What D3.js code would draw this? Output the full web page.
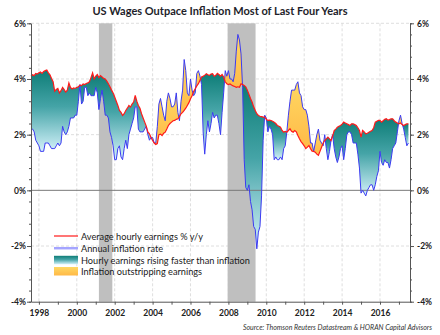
<!DOCTYPE html>
<html lang="en">
<head>
<meta charset="UTF-8">
<title>US Wages Outpace Inflation</title>
<script src="https://cdn.jsdelivr.net/npm/d3@7/dist/d3.min.js"></script>
<style>
  body { margin: 0; background: #fff; }
  text { font-family: Lato, "Open Sans", sans-serif; }
</style>
</head>
<body>
<svg id="chart" width="440" height="335"></svg>
<script>
// monthly series, Aug 1997 - Jul 2017 (% y/y)
const startYear = 1997 + 7 / 12;

const wages = [
  4.10, 4.15, 4.12, 4.20, 4.18,
  4.22, 4.25, 4.20, 4.27, 4.30, 4.32, 4.22, 4.15, 4.02, 3.90, 3.56, 3.62,
  3.66, 3.50, 3.58, 3.70, 3.62, 3.53, 3.60, 3.86, 3.70, 3.64, 3.68, 3.66,
  3.70, 3.72, 3.78, 3.76, 3.82, 3.80, 3.84, 3.86, 3.90, 4.05, 4.22, 4.00,
  4.10, 4.16, 4.05, 4.12, 4.07, 4.02, 4.00, 3.92, 3.83, 3.72, 3.60, 3.50,
  3.35, 3.20, 3.05, 2.87, 2.80, 2.69, 2.75, 2.87, 2.95, 3.05, 2.99, 3.10,
  3.17, 3.41, 3.20, 3.05, 2.95, 2.75, 2.60, 2.45, 2.30, 2.10, 2.03, 1.90,
  1.79, 1.70, 1.65, 1.68, 2.00, 2.02, 1.97, 2.05, 2.09, 2.20, 2.33, 2.40,
  2.45, 2.50, 2.51, 2.55, 2.57, 2.65, 2.75, 2.80, 2.87, 2.95, 3.05, 3.15,
  3.29, 3.40, 3.55, 3.65, 3.75, 3.83, 3.95, 4.07, 4.10, 4.13, 4.19, 4.15,
  4.13, 4.18, 4.19, 4.10, 4.13, 4.20, 4.16, 4.10, 4.16, 4.07, 3.90, 3.83,
  3.80, 3.82, 3.78, 3.75, 3.73, 3.70, 3.72, 3.70, 3.83, 3.80, 3.77, 3.72,
  3.60, 3.45, 3.30, 3.17, 3.00, 2.87, 2.75, 2.69, 2.66, 2.65, 2.63, 2.63,
  2.55, 2.51, 2.52, 2.51, 2.48, 2.45, 2.40, 2.33, 2.30, 2.27, 2.15, 2.09,
  2.12, 2.09, 2.15, 2.21, 2.12, 2.09, 2.15, 2.10, 1.97, 1.85, 1.75, 1.68,
  1.60, 1.50, 1.55, 1.61, 1.50, 1.41, 1.40, 1.37, 1.30, 1.26, 1.40, 1.55,
  1.70, 1.79, 1.85, 1.91, 1.85, 1.79, 1.95, 2.15, 2.20, 2.27, 2.30, 2.33,
  2.38, 2.45, 2.42, 2.39, 2.36, 2.33, 2.39, 2.39, 2.36, 2.33, 2.25, 2.15,
  1.91, 2.15, 2.10, 2.03, 2.05, 2.09, 2.12, 2.15, 2.25, 2.45, 2.48, 2.51,
  2.51, 2.45, 2.50, 2.55, 2.57, 2.52, 2.54, 2.57, 2.57, 2.50, 2.45, 2.42,
  2.39, 2.42, 2.36, 2.33, 2.36, 2.39, 2.39
];

const inflation = [
  2.2, 2.2, 2.1, 1.8, 1.7,
  1.6, 1.4, 1.4, 1.4, 1.7, 1.7, 1.7, 1.6, 1.5, 1.5, 1.5, 1.6,
  1.7, 1.6, 1.7, 2.3, 2.1, 2.0, 2.1, 2.3, 2.6, 2.6, 2.6, 2.7,
  2.7, 3.2, 3.8, 3.1, 3.2, 3.7, 3.7, 3.4, 3.5, 3.4, 3.4, 3.4,
  3.7, 3.5, 2.9, 3.3, 3.6, 3.2, 2.7, 2.7, 2.6, 2.1, 1.9, 1.6,
  1.1, 1.1, 1.5, 1.6, 1.2, 1.1, 1.5, 1.8, 1.5, 2.0, 2.2, 2.4,
  2.6, 3.0, 3.0, 2.2, 2.1, 2.1, 2.1, 2.2, 2.3, 2.0, 1.8, 1.9,
  1.9, 1.7, 1.7, 2.3, 3.1, 3.3, 3.0, 2.7, 2.5, 3.2, 3.5, 3.3,
  3.0, 3.0, 3.1, 3.5, 2.8, 2.5, 3.2, 3.6, 4.7, 4.3, 3.5, 3.4,
  4.0, 3.6, 3.4, 3.5, 4.2, 4.3, 4.1, 3.8, 2.1, 1.3, 2.0, 2.5,
  2.1, 2.4, 2.8, 2.6, 2.7, 2.7, 2.4, 2.0, 2.8, 3.5, 4.3, 4.1,
  4.3, 4.0, 4.0, 3.9, 4.2, 5.0, 5.6, 5.4, 4.9, 3.7, 1.1, 0.1,
  0.0, 0.2, -0.4, -0.7, -1.3, -1.4, -2.1, -1.5, -1.3, -0.2, 1.8, 2.7,
  2.6, 2.1, 2.3, 2.2, 2.0, 1.1, 1.2, 1.1, 1.1, 1.2, 1.1, 1.5,
  1.6, 2.1, 2.7, 3.2, 3.6, 3.6, 3.6, 3.8, 3.9, 3.5, 3.4, 3.0,
  2.9, 2.9, 2.7, 2.3, 1.7, 1.7, 1.4, 1.7, 2.0, 2.2, 1.8, 1.7,
  1.6, 2.0, 1.5, 1.1, 1.4, 1.8, 2.0, 1.5, 1.2, 1.0, 1.2, 1.5,
  1.6, 1.1, 1.5, 2.0, 2.1, 2.1, 2.0, 1.7, 1.7, 1.7, 1.3, 0.8,
  -0.1, 0.0, -0.1, -0.2, 0.0, 0.1, 0.2, 0.2, 0.0, 0.2, 0.5, 0.7,
  1.4, 1.0, 0.9, 1.1, 1.0, 1.0, 0.8, 1.1, 1.5, 1.6, 1.7, 2.1,
  2.5, 2.7, 2.4, 2.2, 1.9, 1.6, 1.7
];

// NBER recessions (decimal years)
const recessions = [[2001 + 2 / 12, 2001 + 10.5 / 12], [2007 + 11.5 / 12, 2009 + 5.2 / 12]];
const yTicks = [-4, -2, 0, 2, 4, 6];
const yGrid = [-2, 2, 4, 6];
const yearTicks = d3.range(1998, 2018);
const gridYears = [1998, 2000, 2002, 2004, 2006, 2008, 2010, 2012, 2014, 2016];

const legendItems = [
  'Average hourly earnings % y/y',
  'Annual inflation rate',
  'Hourly earnings rising faster than inflation',
  'Inflation outstripping earnings'
];

const svg = d3.select('#chart');
const margin = { top: 23.3, right: 30, bottom: 33.3, left: 31 };
const W = 440, H = 335;

const x = d3.scaleLinear()
  .domain([startYear, startYear + 20])
  .range([margin.left, W - margin.right]);
const y = d3.scaleLinear()
  .domain([-4, 6])
  .range([H - margin.bottom, margin.top]);

const rows = wages.map((w, i) => ({ t: startYear + i / 12, w: w, c: inflation[i] }));

// gradients
const defs = svg.append('defs');
const teal = defs.append('linearGradient').attr('id', 'teal')
  .attr('x1', 0).attr('y1', 0).attr('x2', 0).attr('y2', 1);
teal.append('stop').attr('offset', '0%').attr('stop-color', '#0e7d77');
teal.append('stop').attr('offset', '45%').attr('stop-color', '#45a4a7');
teal.append('stop').attr('offset', '100%').attr('stop-color', '#d4f2fa');
const gold = defs.append('linearGradient').attr('id', 'gold')
  .attr('x1', 0).attr('y1', 0).attr('x2', 0).attr('y2', 1);
gold.append('stop').attr('offset', '0%').attr('stop-color', '#ffd862');
gold.append('stop').attr('offset', '100%').attr('stop-color', '#ffb947');

// gridlines
const grid = svg.append('g')
  .attr('stroke', '#d6d6d6').attr('stroke-dasharray', '3,2').attr('stroke-width', 0.8);
grid.selectAll('.gx').data(gridYears).enter().append('line')
  .attr('x1', d => x(d)).attr('x2', d => x(d))
  .attr('y1', y(6)).attr('y2', y(-4));
grid.selectAll('.gy').data(yGrid).enter().append('line')
  .attr('x1', x.range()[0]).attr('x2', x.range()[1])
  .attr('y1', d => y(d)).attr('y2', d => y(d));

// recession shading
svg.append('g').selectAll('rect').data(recessions).enter().append('rect')
  .attr('x', d => x(d[0])).attr('width', d => x(d[1]) - x(d[0]))
  .attr('y', y(6)).attr('height', y(-4) - y(6))
  .attr('fill', '#bfbfbf');

// split the gap between the two lines wherever they cross
const segments = [];
let cur = null, curSign = 0;
rows.forEach((p, i) => {
  const s = p.w - p.c >= 0 ? 1 : -1;
  if (!cur) { cur = [p]; curSign = s; return; }
  if (s !== curSign) {
    const q = rows[i - 1];
    const d0 = q.w - q.c, d1 = p.w - p.c;
    const f = d0 / (d0 - d1);
    const v = q.w + f * (p.w - q.w);
    const cross = { t: q.t + f * (p.t - q.t), w: v, c: v };
    cur.push(cross);
    segments.push({ sign: curSign, pts: cur });
    cur = [cross, p];
    curSign = s;
  } else {
    cur.push(p);
  }
});
segments.push({ sign: curSign, pts: cur });

const area = d3.area()
  .x(d => x(d.t))
  .y0(d => y(d.c))
  .y1(d => y(d.w));

svg.append('g').selectAll('path').data(segments.filter(s => s.pts.length > 1)).enter()
  .append('path')
  .attr('d', d => area(d.pts))
  .attr('fill', d => d.sign > 0 ? 'url(#teal)' : 'url(#gold)');

// zero line
svg.append('line')
  .attr('x1', x.range()[0]).attr('x2', x.range()[1])
  .attr('y1', y(0)).attr('y2', y(0))
  .attr('stroke', '#7a7a7a').attr('stroke-width', 1);

const line = key => d3.line().x(d => x(d.t)).y(d => y(d[key]));
svg.append('path').datum(rows).attr('d', line('c'))
  .attr('fill', 'none').attr('stroke', '#3b3bf2').attr('stroke-width', 1);
svg.append('path').datum(rows).attr('d', line('w'))
  .attr('fill', 'none').attr('stroke', '#ff1a1a').attr('stroke-width', 1.2);

// axes
function styleAxis(g) {
  g.selectAll('.domain').attr('stroke', '#555');
  g.selectAll('.tick line').attr('stroke', '#555');
  g.selectAll('text').attr('font-family', 'Lato, sans-serif')
    .attr('font-weight', 'bold').attr('font-size', 8.5).attr('fill', '#222');
}
const minor = d3.range(-4, 6.001, 0.4);

svg.append('g').attr('transform', `translate(${x.range()[0]},0)`)
  .call(d3.axisLeft(y).tickValues(minor).tickSize(2).tickSizeOuter(0).tickFormat(''))
  .call(styleAxis);
svg.append('g').attr('transform', `translate(${x.range()[0]},0)`)
  .call(d3.axisLeft(y).tickValues(yTicks).tickSize(4).tickSizeOuter(0).tickPadding(1).tickFormat(d => d + '%'))
  .call(styleAxis);
svg.append('g').attr('transform', `translate(${x.range()[1]},0)`)
  .call(d3.axisRight(y).tickValues(minor).tickSize(2).tickSizeOuter(0).tickFormat(''))
  .call(styleAxis);
svg.append('g').attr('transform', `translate(${x.range()[1]},0)`)
  .call(d3.axisRight(y).tickValues(yTicks).tickSize(4).tickSizeOuter(0).tickPadding(3).tickFormat(d => d + '%'))
  .call(styleAxis);
svg.append('g').attr('transform', `translate(0,${y(-4)})`)
  .call(d3.axisBottom(x).tickValues(yearTicks).tickSize(3).tickSizeOuter(0).tickPadding(5)
    .tickFormat(d => d % 2 === 0 ? d : ''))
  .call(styleAxis);

// title
svg.append('text').attr('x', 220).attr('y', 14.5).attr('text-anchor', 'middle')
  .attr('font-weight', 'bold').attr('font-size', 11).attr('fill', '#1e1e2a')
  .text('US Wages Outpace Inflation Most of Last Four Years');

// legend
const lg = svg.append('g').attr('transform', 'translate(54,0)');
const ly = [237, 248.7, 260.3, 271.5];
lg.append('line').attr('x1', 0).attr('x2', 24).attr('y1', ly[0] - 1).attr('y2', ly[0] - 1)
  .attr('stroke', '#ff1a1a').attr('stroke-width', 1.2);
lg.append('line').attr('x1', 0).attr('x2', 24).attr('y1', ly[1] - 0.5).attr('y2', ly[1] - 0.5)
  .attr('stroke', '#a4a4ff').attr('stroke-width', 2.5);
lg.append('rect').attr('x', 0).attr('width', 24).attr('y', ly[2] - 4.5).attr('height', 8.5)
  .attr('fill', 'url(#teal)');
lg.append('rect').attr('x', 0).attr('width', 24).attr('y', ly[3] - 4.5).attr('height', 8.5)
  .attr('fill', 'url(#gold)');
lg.selectAll('text').data(legendItems).enter().append('text')
  .attr('x', 27).attr('y', (d, i) => ly[i]).attr('dy', '0.35em')
  .attr('font-size', 9.2).attr('fill', '#1a1a1a')
  .text(d => d);

// source note
svg.append('text').attr('x', 432).attr('y', 330).attr('text-anchor', 'end')
  .attr('font-style', 'italic').attr('font-size', 7).attr('fill', '#333')
  .text('Source: Thomson Reuters Datastream & HORAN Capital Advisors');
</script>
</body>
</html>
